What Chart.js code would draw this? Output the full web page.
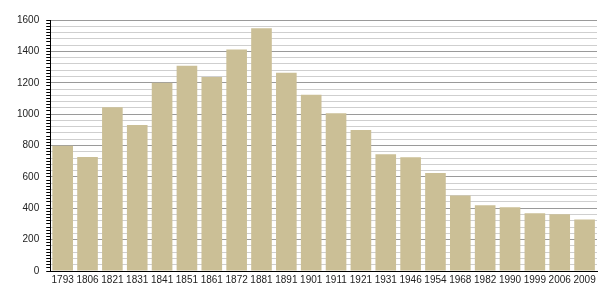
<!DOCTYPE html>
<html>
<head>
<meta charset="utf-8">
<script src="https://cdn.jsdelivr.net/npm/chart.js@4"></script>
<style>
  html, body { margin: 0; padding: 0; background: #fff; }
  #wrap { width: 605px; height: 300px; }
</style>
</head>
<body>
<div id="wrap"><canvas id="population"></canvas></div>
<script>
const years = ["1793", "1806", "1821", "1831", "1841", "1851", "1861", "1872", "1881", "1891", "1901",
               "1911", "1921", "1931", "1946", "1954", "1968", "1982", "1990", "1999", "2006", "2009"];
const population = [798, 727, 1044, 931, 1200, 1309, 1237, 1412, 1547, 1264, 1123,
                    1006, 899, 745, 725, 625, 481, 419, 406, 368, 361, 329];
const yMax = 1600;

(async function () {
    new Chart(
        document.getElementById('population'),
        {
            type: 'bar',
            data: {
                labels: years,
                datasets: [
                    {
                        data: population,
                        backgroundColor: '#cbbf96',
                        borderWidth: 0,
                        categoryPercentage: 1,
                        barPercentage: 0.83
                    }
                ]
            },
            options: {
                responsive: true,
                maintainAspectRatio: false,
                animation: false,
                layout: { padding: { left: 10, top: 20, right: 8, bottom: 11 } },
                plugins: {
                    legend: { display: false },
                    tooltip: { enabled: false }
                },
                scales: {
                    x: {
                        grid: { display: false, drawTicks: false },
                        border: { color: '#000', width: 1 },
                        ticks: {
                            color: '#222',
                            padding: 3,
                            maxRotation: 0,
                            autoSkip: false,
                            font: { family: 'Liberation Sans', size: 10 }
                        }
                    },
                    y: {
                        min: 0,
                        max: yMax,
                        border: { color: '#000', width: 1 },
                        grid: {
                            // dark line every 200, light every 40, none otherwise
                            color: ctx => {
                                const v = ctx.tick ? ctx.tick.value : 0;
                                if (v % 200 === 0) return '#9a9a9a';
                                if (v % 40 === 0) return '#cfcfcf';
                                return 'rgba(0,0,0,0)';
                            },
                            tickColor: '#000',
                            tickLength: 4
                        },
                        ticks: {
                            stepSize: 20,
                            autoSkip: false,
                            padding: 7,
                            color: '#222',
                            font: { family: 'Liberation Sans', size: 10 },
                            callback: v => (v % 200 === 0 ? v : '')
                        }
                    }
                }
            }
        }
    );
})();
</script>
</body>
</html>
